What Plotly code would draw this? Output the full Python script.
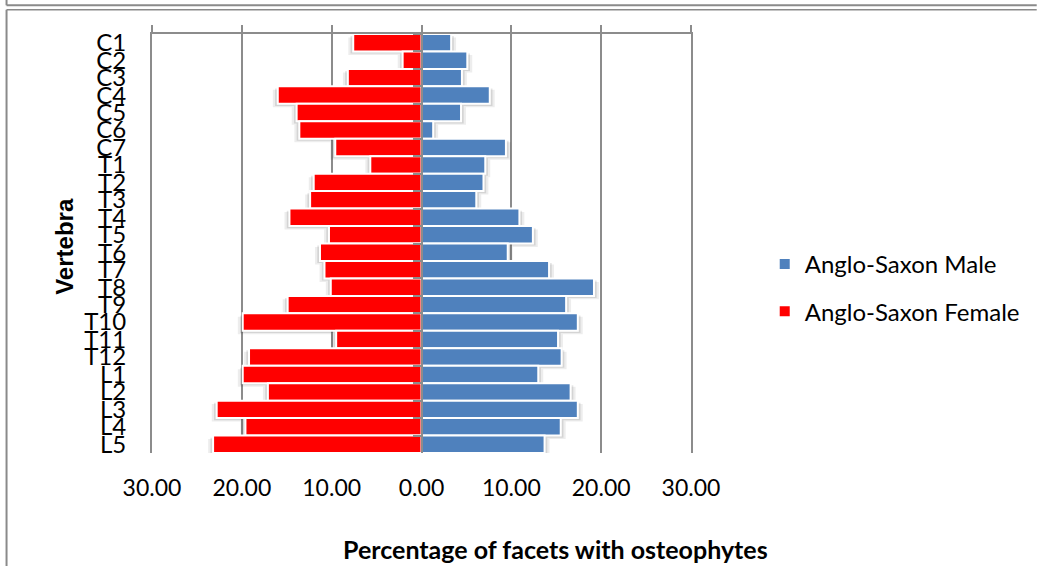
import plotly.graph_objects as go

# Vertebral levels, top to bottom
vertebrae = ["C1", "C2", "C3", "C4", "C5", "C6", "C7",
             "T1", "T2", "T3", "T4", "T5", "T6", "T7", "T8", "T9", "T10", "T11", "T12",
             "L1", "L2", "L3", "L4", "L5"]

# Percentage of facets with osteophytes
male = [3.3, 5.1, 4.5, 7.6, 4.4, 1.3, 9.4, 7.1, 6.9, 6.1, 10.9, 12.4,
        9.6, 14.2, 19.2, 16.1, 17.4, 15.2, 15.6, 13.0, 16.6, 17.4, 15.5, 13.7]
female = [7.6, 2.1, 8.2, 16.0, 13.9, 13.6, 9.6, 5.7, 12.0, 12.4, 14.7, 10.3,
          11.3, 10.8, 10.1, 14.9, 19.9, 9.5, 19.2, 19.9, 17.1, 22.8, 19.6, 23.2]

tick_vals = [-30, -20, -10, 0, 10, 20, 30]
tick_text = ["30.00", "20.00", "10.00", "0.00", "10.00", "20.00", "30.00"]

MALE_COLOR = "#4F81BD"
FEMALE_COLOR = "#FF0000"
GRID = "#8C8C8C"
FONT = "Lato, 'Open Sans', sans-serif"

W, H = 1037, 566
ML, MR, MT, MB = 152, 344, 34, 113
PW, PH = W - ML - MR, H - MT - MB


def px(x):
    return (x - ML) / PW


def py(y):
    return (H - MB - y) / PH


female_neg = [-v for v in female]

fig = go.Figure()

# soft drop shadows behind the bars
for vals, sign in ((male, 1), (female, -1)):
    for ext, shift, alpha in ((0.55, 0.2, 0.07), (0.3, 0.12, 0.10)):
        fig.add_trace(go.Bar(
            y=vertebrae, x=[sign * (v + ext) for v in vals], orientation="h",
            width=1.0, offset=-0.5 + shift,
            marker=dict(color=f"rgba(0,0,0,{alpha})", line=dict(width=0)),
            showlegend=False, hoverinfo="skip",
        ))

fig.add_trace(go.Bar(
    y=vertebrae, x=male, orientation="h", name="Anglo-Saxon Male",
    width=1.0, offset=-0.5,
    marker=dict(color=MALE_COLOR, line=dict(color="white", width=2)),
    legendgroup="m",
))
fig.add_trace(go.Bar(
    y=vertebrae, x=female_neg, orientation="h", name="Anglo-Saxon Female",
    width=1.0, offset=-0.5,
    marker=dict(color=FEMALE_COLOR, line=dict(color="white", width=2)),
    customdata=female, hovertemplate="%{y}: %{customdata}<extra>Anglo-Saxon Female</extra>",
    legendgroup="f",
))

# carrier for the category axis drawn at zero and the top value axis
fig.add_trace(go.Scatter(
    x=[0] * len(vertebrae), y=vertebrae, xaxis="x2", yaxis="y2",
    mode="markers", marker=dict(opacity=0), showlegend=False, hoverinfo="skip",
))

cat_range = [len(vertebrae) - 0.5, -0.5]

fig.update_layout(
    width=W, height=H,
    margin=dict(l=ML, r=MR, t=MT, b=MB),
    paper_bgcolor="white", plot_bgcolor="white",
    barmode="overlay",
    font=dict(family=FONT, color="black"),
    xaxis=dict(
        range=[-30, 30], tickvals=tick_vals, ticktext=tick_text,
        showgrid=True, gridcolor=GRID, gridwidth=2,
        zeroline=False, showline=False, ticks="",
        tickfont=dict(size=23), ticklabelstandoff=19,
    ),
    xaxis2=dict(
        overlaying="x", side="top", anchor="y2",
        range=[-30, 30], tickvals=tick_vals, showticklabels=False,
        showgrid=False, zeroline=False,
        showline=True, linecolor=GRID, linewidth=2,
        ticks="outside", ticklen=7, tickwidth=2, tickcolor=GRID,
    ),
    yaxis=dict(
        type="category", categoryorder="array", categoryarray=vertebrae,
        tickmode="array", tickvals=vertebrae, ticktext=vertebrae,
        range=cat_range, showgrid=False, zeroline=False,
        showline=True, mirror=True, linecolor=GRID, linewidth=2,
        ticks="", tickfont=dict(size=24), ticklabelstandoff=19,
    ),
    yaxis2=dict(
        type="category", categoryorder="array", categoryarray=vertebrae,
        overlaying="y", anchor="free", position=0.5, side="left",
        range=cat_range, showticklabels=False, showgrid=False, zeroline=False,
        showline=True, linecolor=GRID, linewidth=2,
        ticks="outside", ticklen=8, tickwidth=2, tickcolor=GRID,
        tickson="boundaries",
    ),
    legend=dict(
        x=px(767), xanchor="left", y=py(242), yanchor="top",
        font=dict(size=24), tracegroupgap=13, bgcolor="rgba(0,0,0,0)",
    ),
    annotations=[
        dict(text="<b>Percentage of facets with osteophytes</b>", xref="paper", yref="paper",
             x=px(557), y=py(549), xanchor="center", yanchor="middle",
             showarrow=False, font=dict(size=25)),
        dict(text="<b>Vertebra</b>", xref="paper", yref="paper", textangle=-90,
             x=px(64), y=py(246.5), xanchor="center", yanchor="middle",
             showarrow=False, font=dict(size=24, family="'Liberation Sans', Arial, sans-serif")),
    ],
    shapes=[
        dict(type="line", xref="paper", yref="paper", x0=px(6), x1=px(1040), y0=py(5.3), y1=py(5.3),
             line=dict(color="#8A8A8A", width=2)),
        dict(type="line", xref="paper", yref="paper", x0=px(6), x1=px(6), y0=py(-2), y1=py(5.3),
             line=dict(color="#8A8A8A", width=2)),
        dict(type="line", xref="paper", yref="paper", x0=px(6), x1=px(1040), y0=py(9.7), y1=py(9.7),
             line=dict(color="#8A8A8A", width=1.5)),
        dict(type="line", xref="paper", yref="paper", x0=px(6), x1=px(6), y0=py(9.7), y1=py(570),
             line=dict(color="#8A8A8A", width=2)),
    ],
)

fig.write_html("out.html")
